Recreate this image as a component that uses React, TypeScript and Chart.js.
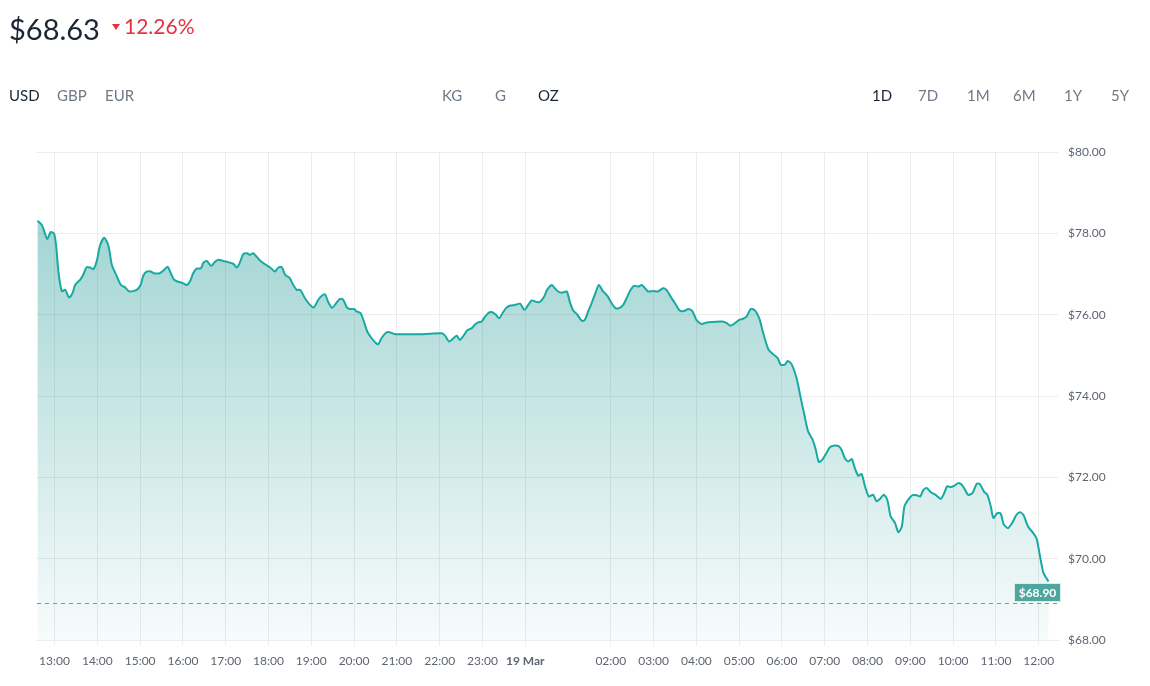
import React, { useEffect, useRef } from "react";
import { Chart, registerables } from "chart.js";

Chart.register(...registerables);

// Hours since 18 Mar 00:00 (24 = 19 Mar 00:00)
const times: number[] = [
  12.60, 12.70, 12.75, 12.83, 12.91, 12.99, 13.04, 13.09, 13.17, 13.25, 13.34, 13.42, 13.48, 13.60, 13.67, 13.75,
  13.83, 13.91, 13.99, 14.06, 14.16, 14.26, 14.34, 14.44, 14.55, 14.65, 14.75, 14.92, 15.01, 15.07, 15.15, 15.25,
  15.32, 15.46, 15.54, 15.64, 15.70, 15.79, 15.89, 16.01, 16.09, 16.17, 16.24, 16.32, 16.42, 16.48, 16.56, 16.66,
  16.75, 16.83, 16.94, 17.10, 17.18, 17.26, 17.33, 17.41, 17.50, 17.57, 17.64, 17.72, 17.80, 17.92, 18.04, 18.15,
  18.23, 18.31, 18.39, 18.49, 18.58, 18.66, 18.74, 18.85, 18.97, 19.06, 19.16, 19.24, 19.32, 19.40, 19.49, 19.58,
  19.67, 19.75, 19.83, 19.90, 20.00, 20.06, 20.15, 20.23, 20.31, 20.41, 20.51, 20.57, 20.64, 20.74, 20.82, 20.96,
  21.23, 21.62, 22.05, 22.12, 22.22, 22.32, 22.40, 22.47, 22.57, 22.64, 22.75, 22.82, 22.90, 22.98, 23.06, 23.15,
  23.23, 23.32, 23.39, 23.47, 23.55, 23.64, 23.76, 23.88, 23.98, 24.07, 24.15, 24.27, 24.34, 24.44, 24.51, 24.62,
  24.69, 24.77, 24.86, 24.97, 25.04, 25.12, 25.21, 25.32, 25.39, 25.47, 25.55, 25.64, 25.72, 25.82, 25.92, 26.02,
  26.11, 26.19, 26.29, 26.37, 26.45, 26.54, 26.64, 26.72, 26.80, 26.87, 26.99, 27.10, 27.22, 27.30, 27.40, 27.50,
  27.61, 27.71, 27.81, 27.91, 28.00, 28.12, 28.24, 28.39, 28.61, 28.71, 28.80, 28.90, 29.00, 29.09, 29.17, 29.27,
  29.37, 29.47, 29.56, 29.68, 29.79, 29.90, 29.97, 30.07, 30.13, 30.22, 30.34, 30.43, 30.53, 30.61, 30.71, 30.79,
  30.86, 30.94, 31.04, 31.12, 31.23, 31.33, 31.39, 31.47, 31.55, 31.63, 31.70, 31.78, 31.86, 31.94, 32.03, 32.13,
  32.21, 32.29, 32.38, 32.46, 32.54, 32.64, 32.72, 32.80, 32.86, 32.95, 33.05, 33.15, 33.23, 33.30, 33.38, 33.47,
  33.59, 33.71, 33.79, 33.86, 33.94, 34.02, 34.13, 34.23, 34.35, 34.45, 34.55, 34.62, 34.72, 34.80, 34.88, 34.94,
  35.03, 35.11, 35.18, 35.28, 35.38, 35.48, 35.56, 35.64, 35.75, 35.87, 35.95, 36.03, 36.11, 36.23,
];

const prices: number[] = [
  78.31, 78.21, 78.08, 77.86, 78.03, 77.99, 77.67, 77.06, 76.58, 76.61, 76.42, 76.53, 76.73, 76.86, 76.98, 77.17,
  77.16, 77.12, 77.33, 77.69, 77.89, 77.69, 77.22, 76.98, 76.73, 76.67, 76.57, 76.61, 76.73, 76.95, 77.06, 77.06,
  77.02, 77.02, 77.08, 77.18, 77.06, 76.86, 76.81, 76.77, 76.73, 76.83, 77.02, 77.13, 77.14, 77.28, 77.32, 77.20,
  77.30, 77.35, 77.32, 77.28, 77.25, 77.16, 77.28, 77.49, 77.51, 77.47, 77.51, 77.43, 77.33, 77.24, 77.16, 77.06,
  77.16, 77.17, 76.98, 76.91, 76.73, 76.61, 76.61, 76.41, 76.24, 76.18, 76.36, 76.46, 76.50, 76.30, 76.17, 76.28,
  76.39, 76.36, 76.18, 76.14, 76.14, 76.08, 76.04, 75.83, 75.58, 75.42, 75.30, 75.28, 75.42, 75.55, 75.57, 75.52,
  75.52, 75.52, 75.54, 75.49, 75.34, 75.42, 75.48, 75.38, 75.50, 75.61, 75.67, 75.75, 75.81, 75.83, 75.95, 76.05,
  76.06, 75.99, 75.91, 76.04, 76.16, 76.22, 76.24, 76.27, 76.12, 76.24, 76.35, 76.31, 76.31, 76.44, 76.61, 76.73,
  76.65, 76.57, 76.54, 76.57, 76.32, 76.10, 76.01, 75.85, 75.87, 76.08, 76.28, 76.53, 76.73, 76.57, 76.46, 76.28,
  76.16, 76.16, 76.24, 76.41, 76.59, 76.71, 76.69, 76.73, 76.65, 76.57, 76.58, 76.57, 76.65, 76.61, 76.44, 76.28,
  76.10, 76.09, 76.14, 76.08, 75.87, 75.77, 75.81, 75.82, 75.83, 75.79, 75.73, 75.79, 75.87, 75.90, 75.95, 76.14,
  76.10, 75.91, 75.55, 75.15, 75.03, 74.93, 74.77, 74.77, 74.86, 74.79, 74.44, 73.99, 73.50, 73.13, 72.94, 72.68,
  72.38, 72.43, 72.60, 72.74, 72.78, 72.76, 72.68, 72.47, 72.39, 72.45, 72.23, 72.04, 72.08, 71.78, 71.53, 71.57,
  71.41, 71.47, 71.57, 71.45, 71.04, 70.88, 70.65, 70.79, 71.28, 71.45, 71.56, 71.56, 71.53, 71.68, 71.74, 71.64,
  71.57, 71.47, 71.61, 71.78, 71.76, 71.79, 71.86, 71.78, 71.57, 71.61, 71.84, 71.84, 71.65, 71.57, 71.28, 71.00,
  71.12, 71.11, 70.85, 70.75, 70.88, 71.08, 71.14, 71.08, 70.79, 70.63, 70.49, 70.06, 69.65, 69.44,
];

const tickHours: number[] = [13, 14, 15, 16, 17, 18, 19, 20, 21, 22, 23, 24, 26, 27, 28, 29, 30, 31, 32, 33, 34, 35, 36];
const tickLabels: string[] = [
  "13:00", "14:00", "15:00", "16:00", "17:00", "18:00", "19:00", "20:00", "21:00", "22:00", "23:00", "19 Mar",
  "02:00", "03:00", "04:00", "05:00", "06:00", "07:00", "08:00", "09:00", "10:00", "11:00", "12:00",
];

const lastPrice = 68.9;
const headlinePrice = "$68.63";
const changeText = "12.26%";
const currencies: string[] = ["USD", "GBP", "EUR"];
const units: string[] = ["KG", "G", "OZ"];
const ranges: string[] = ["1D", "7D", "1M", "6M", "1Y", "5Y"];

const FONT = "Lato, 'Open Sans', sans-serif";
const TEAL = "#17a9a2";

const lastPricePlugin = {
  id: "lastPrice",
  afterDatasetsDraw(chart: any) {
    const { ctx, chartArea, scales } = chart;
    const y = Math.round(scales.y.getPixelForValue(lastPrice)) + 0.5;
    ctx.save();
    ctx.strokeStyle = "#5aaaa4";
    ctx.lineWidth = 1;
    ctx.setLineDash([4, 4]);
    ctx.beginPath();
    ctx.moveTo(chartArea.left, y);
    ctx.lineTo(chartArea.right, y);
    ctx.stroke();
    ctx.setLineDash([]);
    const w = 47;
    const h = 19;
    const x0 = chartArea.right + 3 - w;
    const y0 = y - h - 1.5;
    ctx.fillStyle = "#4ea69f";
    ctx.fillRect(x0, y0, w, h);
    ctx.strokeStyle = "rgba(255,255,255,0.8)";
    ctx.strokeRect(x0 + 0.5, y0 + 0.5, w - 1, h - 1);
    ctx.fillStyle = "#ffffff";
    ctx.font = `bold 12px ${FONT}`;
    ctx.textAlign = "center";
    ctx.textBaseline = "middle";
    ctx.fillText("$" + lastPrice.toFixed(2), x0 + w / 2, y0 + h / 2 + 0.5);
    ctx.restore();
  },
};

function ChartCanvas() {
  const ref = useRef<HTMLCanvasElement | null>(null);
  useEffect(() => {
    if (!ref.current) return;
    const chart = new Chart(ref.current, {
      type: "line",
      data: {
        datasets: [
          {
            data: times.map((t, i) => ({ x: t, y: prices[i] })),
            borderColor: TEAL,
            borderWidth: 2,
            pointRadius: 0,
            tension: 0.25,
            fill: "start",
            backgroundColor: (c: any) => {
              const { chart } = c;
              const area = chart.chartArea;
              if (!area) return "rgba(0,140,135,0.2)";
              const g = chart.ctx.createLinearGradient(0, area.top, 0, area.bottom);
              g.addColorStop(0, "rgba(0,140,135,0.42)");
              g.addColorStop(1, "rgba(0,140,135,0.03)");
              return g;
            },
          },
        ],
      },
      options: {
        animation: false,
        responsive: false,
        maintainAspectRatio: false,
        layout: { padding: { left: 37, top: 152, right: 0, bottom: 0 } },
        plugins: { legend: { display: false }, tooltip: { enabled: false } },
        scales: {
          x: {
            type: "linear",
            min: 12.59,
            max: 36.45,
            afterBuildTicks: (axis: any) => {
              axis.ticks = tickHours.map((v) => ({ value: v }));
            },
            afterFit: (axis: any) => {
              axis.height = 46;
            },
            grid: { color: "#ececec", tickLength: 5, lineWidth: 1 },
            border: { display: true, color: "#ececec" },
            ticks: {
              autoSkip: false,
              maxRotation: 0,
              padding: 9,
              color: "#5d6570",
              font: (c: any) => ({
                family: FONT,
                size: 12,
                weight: c.tick && c.tick.value === 24 ? "bold" : "normal",
              }),
              callback: (v: any) => {
                const i = tickHours.indexOf(Number(v));
                return i >= 0 ? tickLabels[i] : "";
              },
            },
          },
          y: {
            position: "right",
            min: 68,
            max: 80,
            afterFit: (axis: any) => {
              axis.width = 92;
            },
            grid: { color: "#ececec", drawTicks: false },
            border: { display: false },
            ticks: {
              stepSize: 2,
              padding: 10,
              color: "#5d6570",
              font: { family: FONT, size: 12 },
              callback: (v: any) => "$" + Number(v).toFixed(2),
            },
          },
        },
      },
      plugins: [lastPricePlugin],
    } as any);
    return () => chart.destroy();
  }, []);
  return <canvas ref={ref} width={1150} height={686} style={{ position: "absolute", left: 0, top: 0 }} />;
}

const abs = (left: number, top: number, extra: React.CSSProperties = {}): React.CSSProperties => ({
  position: "absolute",
  left,
  top,
  whiteSpace: "nowrap",
  ...extra,
});

export default function App() {
  const currencyX = [9, 57, 105];
  const unitX = [442, 495, 538];
  const rangeX = [872, 918, 967, 1013, 1064, 1111];
  const dark = "#1b2535";
  const grey = "#6f7986";
  const btn = { fontSize: 15, lineHeight: "18px" };
  return (
    <div style={{ position: "absolute", left: 0, top: 0, width: 1150, height: 686, fontFamily: FONT, background: "#fff", overflow: "hidden" }}>
      <ChartCanvas />
      <div style={abs(9, 11, { fontSize: 29, lineHeight: "36px", color: dark })}>{headlinePrice}</div>
      <div
        style={abs(112, 24, {
          width: 0,
          height: 0,
          borderLeft: "4px solid transparent",
          borderRight: "4px solid transparent",
          borderTop: "6px solid #e5323f",
        })}
      />
      <div style={abs(124, 13, { fontSize: 21, lineHeight: "26px", color: "#e5323f" })}>{changeText}</div>
      {currencies.map((c, i) => (
        <div key={c} style={abs(currencyX[i], 86, { ...btn, color: i === 0 ? dark : grey })}>{c}</div>
      ))}
      {units.map((c, i) => (
        <div key={c} style={abs(unitX[i], 86, { ...btn, color: i === 2 ? dark : grey })}>{c}</div>
      ))}
      {ranges.map((c, i) => (
        <div key={c} style={abs(rangeX[i], 86, { ...btn, color: i === 0 ? dark : grey })}>{c}</div>
      ))}
    </div>
  );
}
